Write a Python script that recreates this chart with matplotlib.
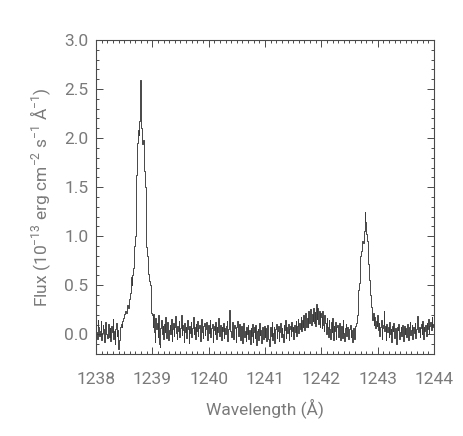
import numpy as np
import matplotlib.pyplot as plt
from matplotlib.ticker import MultipleLocator

plt.rcParams['font.family'] = ['Roboto', 'DejaVu Sans']
plt.rcParams['mathtext.default'] = 'regular'

# wavelength grid, 0.0125 A bins from 1238 to 1244
wave = np.linspace(1238.0, 1244.0, 481)

# flux in 1e-13 erg/cm2/s/A, 20 bins (0.25 A) per row
flux = [
    0.12, 0.02, -0.05, 0.15, 0.08, -0.02, 0.03, 0.14, -0.06, 0.01, 0.10, 0.05, -0.08, 0.04, 0.13, 0.00, -0.04, 0.07, 0.11, -0.03,
    0.06, -0.07, 0.09, 0.02, 0.16, -0.05, 0.03, -0.10, 0.05, 0.12, -0.02, 0.04, -0.15, -0.06, 0.03, 0.08, 0.11, 0.07, 0.14, 0.17,
    # N V 1238.8
    0.18, 0.21, 0.24, 0.22, 0.28, 0.30, 0.27, 0.33, 0.36, 0.42, 0.58, 0.50, 0.61, 0.68, 0.72, 0.90, 1.00, 1.36, 1.62, 1.95,
    2.08, 2.03, 2.17, 2.59, 2.34, 2.10, 1.94, 1.98, 1.80, 1.66, 1.50, 1.29, 0.89, 0.80, 0.68, 0.62, 0.54, 0.50, 0.30, 0.22,
    0.20, 0.08, 0.21, 0.02, -0.08, 0.17, 0.05, 0.12, -0.03, 0.20, -0.10, -0.13, 0.06, 0.15, 0.00, 0.09, -0.05, 0.11, 0.02, 0.18,
    -0.04, 0.07, 0.13, -0.06, 0.04, 0.10, 0.00, 0.16, -0.07, 0.05, 0.12, -0.02, 0.08, 0.19, 0.01, -0.05, 0.09, 0.03, 0.14, -0.03,
    0.06, 0.20, -0.01, 0.10, 0.04, -0.08, 0.12, 0.02, 0.07, -0.04, 0.15, 0.05, -0.09, 0.09, 0.01, 0.13, -0.03, 0.06, 0.18, 0.00,
    0.08, -0.05, 0.11, 0.03, 0.14, -0.02, 0.06, 0.10, -0.07, 0.04, 0.16, 0.02, -0.04, 0.09, 0.12, -0.01, 0.05, 0.13, -0.06, 0.07,
    0.10, 0.01, 0.15, -0.03, 0.06, 0.11, -0.08, 0.04, 0.09, 0.00, 0.13, -0.05, 0.07, 0.02, 0.17, -0.02, 0.05, 0.10, -0.06, 0.08,
    0.03, 0.12, -0.04, 0.06, 0.00, 0.09, 0.14, -0.07, 0.05, 0.11, 0.25, 0.03, -0.03, 0.08, 0.13, -0.05, 0.02, 0.10, 0.06, -0.08,
    0.07, 0.14, -0.02, 0.04, 0.11, -0.06, 0.01, 0.09, -0.09, 0.05, 0.12, -0.03, 0.03, -0.07, 0.08, 0.00, 0.10, -0.05, 0.04, -0.10,
    0.06, -0.02, 0.11, -0.08, 0.02, 0.07, -0.04, 0.10, -0.11, 0.03, 0.05, -0.06, 0.12, -0.01, 0.04, -0.09, 0.08, 0.00, -0.05, 0.09,
    -0.03, 0.06, -0.07, 0.02, 0.10, -0.05, -0.12, 0.04, 0.08, -0.02, 0.13, -0.06, 0.01, 0.07, -0.09, 0.05, 0.11, -0.04, 0.03, 0.09,
    -0.07, 0.02, 0.12, -0.03, 0.06, 0.00, -0.08, 0.10, 0.04, 0.15, -0.04, 0.07, 0.01, 0.11, -0.06, 0.05, 0.09, -0.02, 0.13, 0.03,
    # weak bump near 1242
    0.08, -0.05, 0.10, 0.02, 0.14, -0.02, 0.09, 0.16, 0.01, 0.12, 0.05, 0.18, 0.03, 0.15, 0.08, 0.20, 0.04, 0.13, 0.22, 0.07,
    0.17, 0.08, 0.24, 0.12, 0.19, 0.26, 0.10, 0.21, 0.14, 0.27, 0.12, 0.23, 0.09, 0.31, 0.16, 0.27, 0.11, 0.24, 0.08, 0.22,
    0.18, 0.06, 0.24, 0.10, 0.03, 0.20, 0.12, 0.00, 0.17, 0.08, -0.03, 0.15, 0.05, -0.05, 0.13, 0.02, 0.17, -0.06, 0.09, 0.03,
    0.13, -0.05, 0.07, 0.10, -0.03, 0.04, 0.12, -0.06, 0.02, 0.09, -0.04, 0.15, 0.01, -0.07, 0.06, 0.11, -0.02, 0.08, 0.03, -0.05,
    # N V 1242.8
    0.05, 0.10, -0.03, 0.04, -0.08, 0.02, 0.06, -0.05, 0.01, 0.09, 0.12, 0.20, 0.26, 0.45, 0.52, 0.75, 0.80, 0.85, 0.88, 0.95,
    0.93, 1.05, 1.25, 1.15, 1.02, 0.98, 0.95, 0.72, 0.55, 0.48, 0.40, 0.28, 0.20, 0.15, 0.22, 0.10, 0.18, 0.06, 0.14, 0.09,
    0.20, 0.04, 0.12, -0.02, 0.08, 0.15, -0.05, 0.06, 0.10, 0.24, 0.03, 0.09, -0.06, 0.11, 0.02, 0.07, -0.03, 0.13, 0.00, 0.05,
    -0.08, 0.09, 0.03, 0.12, -0.04, 0.06, 0.01, -0.10, 0.08, 0.04, 0.11, -0.05, 0.02, 0.07, -0.02, 0.10, 0.05, -0.07, 0.09, 0.00,
    0.06, -0.03, 0.11, 0.02, -0.06, 0.08, 0.13, -0.01, 0.04, 0.10, -0.05, 0.07, 0.01, 0.12, -0.04, 0.05, 0.09, 0.19, 0.02, 0.08,
    -0.03, 0.06, 0.11, 0.00, 0.14, -0.05, 0.07, 0.03, 0.10, -0.02, 0.12, 0.05, 0.16, 0.01, 0.09, 0.13, 0.04, 0.18, 0.07, 0.11,
    0.20,
]

fg = '#4a4a4a'
txt = '#7a7a7a'

fig = plt.figure(figsize=(4.63, 4.36), dpi=100)
ax = fig.add_axes([0.2073, 0.1881, 0.7300, 0.7202])

ax.plot(wave, flux, drawstyle='steps-mid', color='#3a3a3a', lw=0.65)

ax.set_xlim(1238, 1244)
ax.set_ylim(-0.2, 3.0)
ax.xaxis.set_major_locator(MultipleLocator(1))
ax.xaxis.set_minor_locator(MultipleLocator(0.1))
ax.yaxis.set_major_locator(MultipleLocator(0.5))
ax.yaxis.set_minor_locator(MultipleLocator(0.1))

ax.tick_params(which='both', direction='in', top=True, right=True,
               color=fg, width=0.7, labelcolor=txt, labelsize=12.5)
ax.tick_params(which='major', length=5)
ax.tick_params(which='minor', length=2.5)
ax.tick_params(axis='x', pad=13)
ax.tick_params(axis='y', pad=5.5)
for s in ax.spines.values():
    s.set_color(fg)
    s.set_linewidth(0.8)

ax.set_xlabel('Wavelength (Å)', color=txt, fontsize=12.5, labelpad=8)
ax.set_ylabel('Flux (10$^{-13}$ erg cm$^{-2}$ s$^{-1}$ Å$^{-1}$)',
              color=txt, fontsize=12.5, labelpad=8)

fig.savefig('out.png', dpi=100)
